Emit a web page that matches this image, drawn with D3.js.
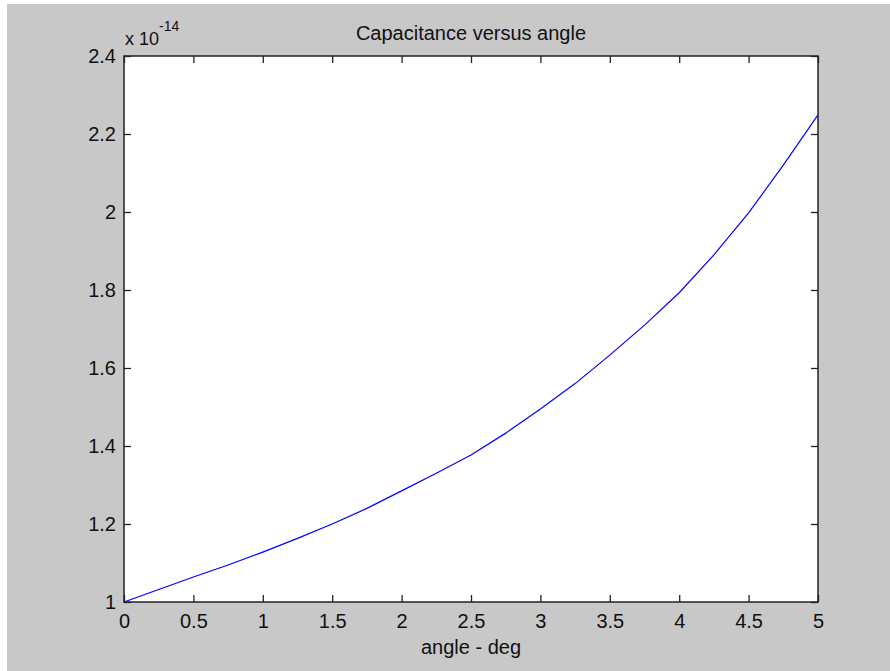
<!DOCTYPE html>
<html>
<head>
<meta charset="utf-8">
<script src="https://cdn.jsdelivr.net/npm/d3@7"></script>
<style>
  body { margin: 0; background: #fff; }
  text { font-family: "Liberation Sans", Arial, sans-serif; fill: #111; }
</style>
</head>
<body>
<script>
// angle in degrees
var angles = [0, 0.25, 0.5, 0.75, 1, 1.25, 1.5, 1.75, 2, 2.25, 2.5, 2.75, 3, 3.25, 3.5, 3.75, 4, 4.25, 4.5, 4.75, 5]
// capacitance, in units of 1e-14
var capacitance = [1.0, 1.032, 1.064, 1.095, 1.128, 1.163, 1.20, 1.24, 1.285, 1.33, 1.377, 1.433, 1.495, 1.56, 1.633, 1.71, 1.793, 1.89, 1.998, 2.12, 2.249]

var xTicks = [0, 0.5, 1, 1.5, 2, 2.5, 3, 3.5, 4, 4.5, 5]
var yTicks = [1, 1.2, 1.4, 1.6, 1.8, 2, 2.2, 2.4]

var data = angles.map(function(a, i) { return {x: a, y: capacitance[i]} })

var W = 890, H = 671
var pLeft = 124, pRight = 818, pTop = 56, pBottom = 602

var svg = d3.select("body").append("svg").attr("width", W).attr("height", H)

// gray figure background (small white margin top/left)
svg.append("rect").attr("x", 7).attr("y", 4).attr("width", W - 7).attr("height", H - 4).attr("fill", "#c8c8c8")

var x = d3.scaleLinear().domain([0, 5]).range([pLeft, pRight])
var y = d3.scaleLinear().domain([1, 2.4]).range([pBottom, pTop])

// plot area
svg.append("rect").attr("x", pLeft).attr("y", pTop).attr("width", pRight - pLeft).attr("height", pBottom - pTop)
  .attr("fill", "#fff")

var fmt = function(d) { return String(d) }

// bottom + top axes, ticks pointing inside
svg.append("g").attr("transform", "translate(0," + pBottom + ")")
  .call(d3.axisBottom(x).tickValues(xTicks).tickSizeInner(-7).tickSizeOuter(0).tickPadding(12).tickFormat(fmt))
  .call(function(g) { g.select(".domain").remove() })
svg.append("g").attr("transform", "translate(0," + pTop + ")")
  .call(d3.axisTop(x).tickValues(xTicks).tickSizeInner(-7).tickSizeOuter(0).tickFormat(""))
  .call(function(g) { g.select(".domain").remove() })

// left + right axes
svg.append("g").attr("transform", "translate(" + pLeft + ",0)")
  .call(d3.axisLeft(y).tickValues(yTicks).tickSizeInner(-7).tickSizeOuter(0).tickPadding(8).tickFormat(fmt))
  .call(function(g) { g.select(".domain").remove() })
svg.append("g").attr("transform", "translate(" + pRight + ",0)")
  .call(d3.axisRight(y).tickValues(yTicks).tickSizeInner(-7).tickSizeOuter(0).tickFormat(""))
  .call(function(g) { g.select(".domain").remove() })

svg.selectAll(".tick line").attr("stroke", "#222").attr("stroke-width", 1.3)
svg.selectAll(".tick text").attr("font-size", 20).attr("fill", "#111")
  .attr("font-family", "Liberation Sans, Arial, sans-serif")

// the curve
var lineFunc = d3.line()
  .x(function(d) { return x(d.x) })
  .y(function(d) { return y(d.y) })

svg.append("path")
  .attr("d", lineFunc(data))
  .attr("stroke", "#0000ff")
  .attr("stroke-width", 1.2)
  .attr("fill", "none")

// box
svg.append("rect").attr("x", pLeft).attr("y", pTop).attr("width", pRight - pLeft).attr("height", pBottom - pTop)
  .attr("fill", "none").attr("stroke", "#222").attr("stroke-width", 1.5)

// title and labels
svg.append("text").attr("x", (pLeft + pRight) / 2).attr("y", 40).attr("text-anchor", "middle")
  .attr("font-size", 20).text("Capacitance versus angle")

svg.append("text").attr("x", (pLeft + pRight) / 2).attr("y", 654).attr("text-anchor", "middle")
  .attr("font-size", 20).text("angle - deg")

// exponent label
var exp = svg.append("text").attr("x", 125).attr("y", 45).attr("font-size", 18)
exp.append("tspan").text("x 10")
exp.append("tspan").attr("dy", -14).attr("font-size", 14).text("-14")
</script>
</body>
</html>
